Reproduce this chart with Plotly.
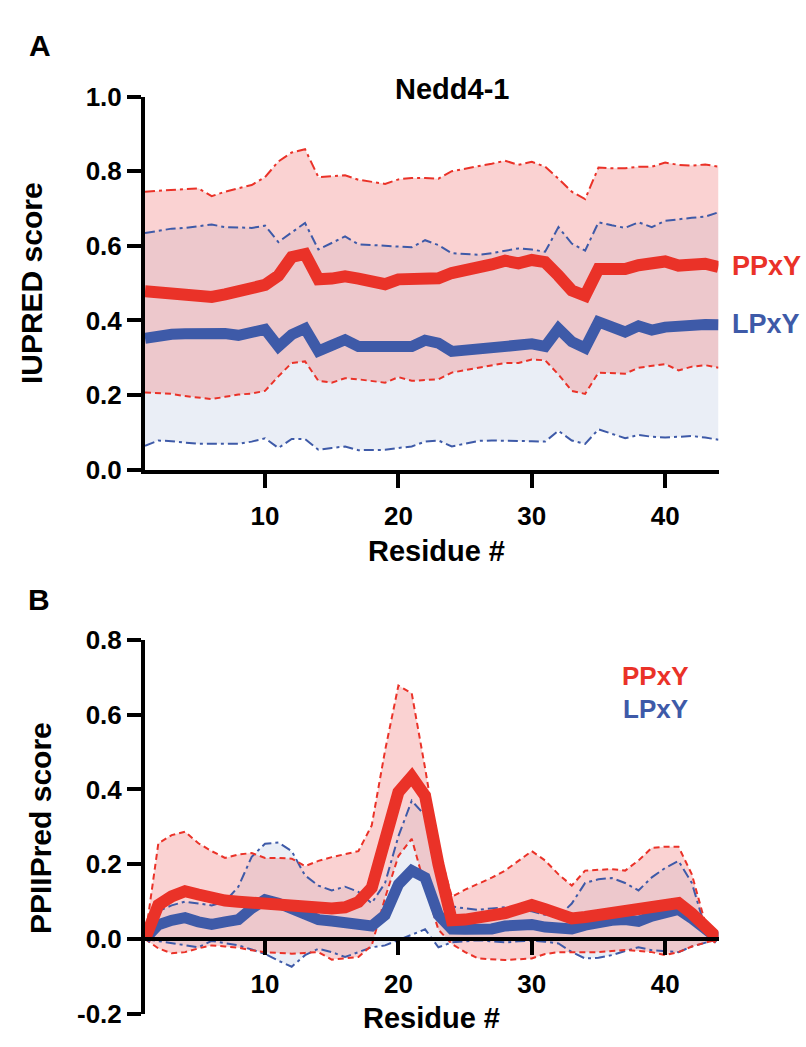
import plotly.graph_objects as go

residues = list(range(1, 45))

# Panel A: IUPRED score
iupred_ppxy_mean = [0.478, 0.475, 0.476, 0.476, 0.474, 0.463, 0.47, 0.48, 0.483, 0.495, 0.52, 0.57, 0.578, 0.51,
                    0.512, 0.518, 0.512, 0.505, 0.497, 0.51, 0.512, 0.512, 0.513, 0.527, 0.533, 0.54, 0.55, 0.56,
                    0.553, 0.562, 0.556, 0.52, 0.48, 0.466, 0.538, 0.538, 0.538, 0.548, 0.55, 0.558, 0.547, 0.55,
                    0.552, 0.543]
iupred_ppxy_upper = [0.745, 0.748, 0.75, 0.752, 0.754, 0.733, 0.745, 0.755, 0.763, 0.784, 0.826, 0.85, 0.859, 0.784,
                     0.786, 0.789, 0.777, 0.772, 0.766, 0.778, 0.782, 0.782, 0.78, 0.8, 0.806, 0.814, 0.82, 0.828,
                     0.817, 0.825, 0.812, 0.78, 0.745, 0.725, 0.81, 0.808, 0.808, 0.812, 0.812, 0.823, 0.817, 0.815,
                     0.818, 0.812]
iupred_ppxy_lower = [0.207, 0.204, 0.203, 0.197, 0.192, 0.189, 0.195, 0.201, 0.204, 0.211, 0.25, 0.286, 0.29, 0.238,
                     0.233, 0.245, 0.242, 0.238, 0.233, 0.248, 0.238, 0.24, 0.242, 0.26, 0.266, 0.273, 0.28, 0.286,
                     0.286, 0.295, 0.293, 0.255, 0.211, 0.203, 0.26, 0.258, 0.257, 0.273, 0.278, 0.283, 0.266, 0.276,
                     0.28, 0.273]
iupred_lpxy_mean = [0.352, 0.36, 0.363, 0.364, 0.366, 0.368, 0.365, 0.36, 0.365, 0.376, 0.33, 0.362, 0.378, 0.318,
                    0.333, 0.348, 0.33, 0.33, 0.33, 0.33, 0.33, 0.347, 0.339, 0.317, 0.32, 0.322, 0.326, 0.333,
                    0.338, 0.337, 0.33, 0.378, 0.343, 0.326, 0.396, 0.382, 0.369, 0.385, 0.374, 0.382, 0.386, 0.389,
                    0.389, 0.388]
iupred_lpxy_upper = [0.634, 0.64, 0.646, 0.648, 0.652, 0.657, 0.65, 0.648, 0.648, 0.654, 0.61, 0.636, 0.661, 0.59,
                     0.608, 0.625, 0.604, 0.602, 0.599, 0.597, 0.596, 0.615, 0.602, 0.58, 0.578, 0.576, 0.58, 0.587,
                     0.593, 0.59, 0.584, 0.65, 0.606, 0.587, 0.663, 0.655, 0.648, 0.663, 0.65, 0.667, 0.672, 0.675,
                     0.678, 0.69]
iupred_lpxy_lower = [0.064, 0.078, 0.076, 0.072, 0.069, 0.069, 0.069, 0.069, 0.075, 0.084, 0.058, 0.082, 0.082, 0.053,
                     0.058, 0.062, 0.052, 0.052, 0.053, 0.058, 0.062, 0.075, 0.078, 0.062, 0.07, 0.077, 0.078, 0.078,
                     0.076, 0.076, 0.075, 0.104, 0.078, 0.069, 0.108, 0.095, 0.084, 0.093, 0.088, 0.086, 0.088, 0.09,
                     0.086, 0.08]

# Panel B: PPIIPred score
ppii_ppxy_mean = [0.0, 0.091, 0.114, 0.128, 0.119, 0.108, 0.103, 0.1, 0.098, 0.096, 0.091, 0.089, 0.084, 0.08,
                  0.082, 0.085, 0.099, 0.137, 0.265, 0.393, 0.434, 0.383, 0.2, 0.05, 0.052, 0.055, 0.061, 0.069,
                  0.08, 0.091, 0.08, 0.068, 0.055, 0.059, 0.064, 0.069, 0.073, 0.078, 0.087, 0.091, 0.096, 0.068,
                  0.032, 0.0]
ppii_ppxy_upper = [0.0, 0.256, 0.278, 0.287, 0.256, 0.235, 0.217, 0.226, 0.23, 0.217, 0.217, 0.215, 0.195, 0.209,
                   0.219, 0.226, 0.235, 0.304, 0.504, 0.678, 0.657, 0.457, 0.244, 0.113, 0.132, 0.148, 0.164, 0.183,
                   0.21, 0.235, 0.21, 0.173, 0.143, 0.183, 0.185, 0.187, 0.183, 0.21, 0.244, 0.247, 0.247, 0.173,
                   0.044, 0.0]
ppii_ppxy_lower = [0.0, -0.025, -0.038, -0.035, -0.025, -0.017, -0.02, -0.023, -0.03, -0.035, -0.037, -0.039, -0.037,
                   -0.035, -0.055, -0.052, -0.048, -0.017, 0.11, 0.222, 0.268, 0.14, 0.025, -0.013, -0.035, -0.052,
                   -0.055, -0.056, -0.054, -0.052, -0.04, -0.035, -0.035, -0.035, -0.035, -0.032, -0.029, -0.032,
                   -0.035, -0.043, -0.035, -0.02, -0.009, 0.0]
ppii_lpxy_mean = [0.0, 0.038, 0.05, 0.057, 0.046, 0.039, 0.046, 0.052, 0.082, 0.105, 0.096, 0.082, 0.064, 0.052,
                  0.048, 0.046, 0.041, 0.035, 0.064, 0.146, 0.183, 0.164, 0.064, 0.027, 0.026, 0.023, 0.027, 0.035,
                  0.037, 0.039, 0.032, 0.027, 0.027, 0.037, 0.047, 0.05, 0.052, 0.047, 0.061, 0.07, 0.079, 0.055,
                  0.023, 0.0]
ppii_lpxy_upper = [0.0, 0.075, 0.09, 0.1, 0.095, 0.09, 0.1, 0.14, 0.22, 0.255, 0.258, 0.235, 0.17, 0.143, 0.13,
                   0.14, 0.126, 0.096, 0.15, 0.275, 0.37, 0.33, 0.205, 0.087, 0.082, 0.078, 0.082, 0.085, 0.08,
                   0.074, 0.065, 0.06, 0.095, 0.15, 0.16, 0.163, 0.15, 0.13, 0.165, 0.19, 0.209, 0.15, 0.03, 0.0]
ppii_lpxy_lower = [0.0, -0.005, -0.01, -0.015, -0.022, -0.005, -0.01, -0.017, -0.028, -0.04, -0.058, -0.074, -0.043,
                   -0.026, -0.035, -0.048, -0.035, -0.022, -0.017, -0.003, 0.013, 0.026, -0.022, -0.009, -0.006,
                   -0.003, -0.006, -0.009, -0.006, -0.004, -0.007, -0.012, -0.035, -0.052, -0.05, -0.043, -0.032,
                   -0.022, -0.03, -0.033, -0.035, -0.02, -0.009, 0.0]

x_ticks = [10, 20, 30, 40]
a_yticks = [0.0, 0.2, 0.4, 0.6, 0.8, 1.0]
a_yticktext = ["0.0", "0.2", "0.4", "0.6", "0.8", "1.0"]
b_yticks = [-0.2, 0.0, 0.2, 0.4, 0.6, 0.8]
b_yticktext = ["-0.2", "0.0", "0.2", "0.4", "0.6", "0.8"]

RED = "rgb(234,50,40)"
BLUE = "rgb(62,90,168)"
RED_FILL = "rgba(242,142,142,0.40)"
BLUE_FILL = "rgb(234,238,246)"
FONT = "Liberation Sans, Arial, Helvetica, sans-serif"
DASHDOT = "10px,4px,3px,4px"
DASH = "6px,4px"

W, H = 806, 1047


def pxx(x):
    return x / W


def pxy(y):
    return 1 - y / H


fig = go.Figure()


def add_panel(xa, ya, pp_mean, pp_up, pp_lo, lp_mean, lp_up, lp_lo, pp_lo_dash, lp_up_dash, pp_up_dash):
    common = dict(xaxis=xa, yaxis=ya, showlegend=False, hoverinfo="skip")
    # blue band
    fig.add_trace(go.Scatter(x=residues, y=lp_up, mode="lines", line=dict(width=0, color=BLUE_FILL), **common))
    fig.add_trace(go.Scatter(x=residues, y=lp_lo, mode="lines", line=dict(width=0, color=BLUE_FILL),
                             fill="tonexty", fillcolor=BLUE_FILL, **common))
    # red band
    fig.add_trace(go.Scatter(x=residues, y=pp_up, mode="lines", line=dict(width=0, color=RED_FILL), **common))
    fig.add_trace(go.Scatter(x=residues, y=pp_lo, mode="lines", line=dict(width=0, color=RED_FILL),
                             fill="tonexty", fillcolor=RED_FILL, **common))
    # boundary lines
    fig.add_trace(go.Scatter(x=residues, y=lp_up, mode="lines", line=dict(width=2, color=BLUE, dash=lp_up_dash), **common))
    fig.add_trace(go.Scatter(x=residues, y=lp_lo, mode="lines", line=dict(width=2, color=BLUE, dash=DASHDOT), **common))
    fig.add_trace(go.Scatter(x=residues, y=pp_up, mode="lines", line=dict(width=2, color=RED, dash=pp_up_dash), **common))
    fig.add_trace(go.Scatter(x=residues, y=pp_lo, mode="lines", line=dict(width=2, color=RED, dash=pp_lo_dash), **common))
    # means
    fig.add_trace(go.Scatter(x=residues, y=lp_mean, mode="lines", line=dict(width=11, color=BLUE), **common))
    fig.add_trace(go.Scatter(x=residues, y=pp_mean, mode="lines", line=dict(width=12, color=RED), **common))


add_panel("x", "y", iupred_ppxy_mean, iupred_ppxy_upper, iupred_ppxy_lower,
          iupred_lpxy_mean, iupred_lpxy_upper, iupred_lpxy_lower, DASH, DASHDOT, DASHDOT)
add_panel("x2", "y2", ppii_ppxy_mean, ppii_ppxy_upper, ppii_ppxy_lower,
          ppii_lpxy_mean, ppii_lpxy_upper, ppii_lpxy_lower, DASH, DASHDOT, DASH)

tickfont = dict(family=FONT, size=26, color="black", weight="bold")
axis_common = dict(showgrid=False, zeroline=False, showline=True, linewidth=4, linecolor="black",
                   ticks="outside", ticklen=14, tickwidth=4, tickcolor="black", tickfont=tickfont)

x_dom = [pxx(145), pxx(718.5)]

fig.update_layout(
    width=W, height=H,
    margin=dict(l=0, r=0, t=0, b=0),
    paper_bgcolor="white", plot_bgcolor="white",
    xaxis=dict(domain=x_dom, range=[1, 44], tickvals=x_ticks, anchor="y", ticklabelstandoff=6, **axis_common),
    yaxis=dict(domain=[pxy(468), pxy(84)], range=[0, 1], tickvals=a_yticks, ticktext=a_yticktext,
               anchor="x", **axis_common),
    xaxis2=dict(domain=x_dom, range=[1, 44], tickvals=x_ticks, anchor="free", position=pxy(951.7),
                ticklabelstandoff=6, **axis_common),
    yaxis2=dict(domain=[pxy(1028.3), pxy(643.3)], range=[-0.2, 0.8], tickvals=b_yticks, ticktext=b_yticktext,
                anchor="x2", **axis_common),
)

annotations = [
    ("A", 40, 31, 30, "black", 0),
    ("B", 39, 602, 30, "black", 0),
    ("Nedd4-1", 452, 76, 29, "black", 0),
    ("Residue #", 436, 552, 29, "black", 0),
    ("Residue #", 432, 1033, 29, "black", 0),
    ("IUPRED score", 31, 276, 30, "black", -90),
    ("PPIIPred score", 40, 837, 30, "black", -90),
    ("PPxY", 766, 258, 27, RED, 0),
    ("LPxY", 766, 318, 27, BLUE, 0),
    ("PPxY", 655, 680, 26, RED, 0),
    ("LPxY", 655, 714, 26, BLUE, 0),
]
for text, x, y, size, color, angle in annotations:
    fig.add_annotation(text=text, x=pxx(x), y=pxy(y), xref="paper", yref="paper",
                       xanchor="center", yanchor="middle", showarrow=False, textangle=angle,
                       font=dict(family=FONT, size=size, color=color, weight="bold"))

fig.write_html("out.html", config={"displayModeBar": False},
               post_script="document.body.style.margin='0px';document.body.style.padding='0px';")
